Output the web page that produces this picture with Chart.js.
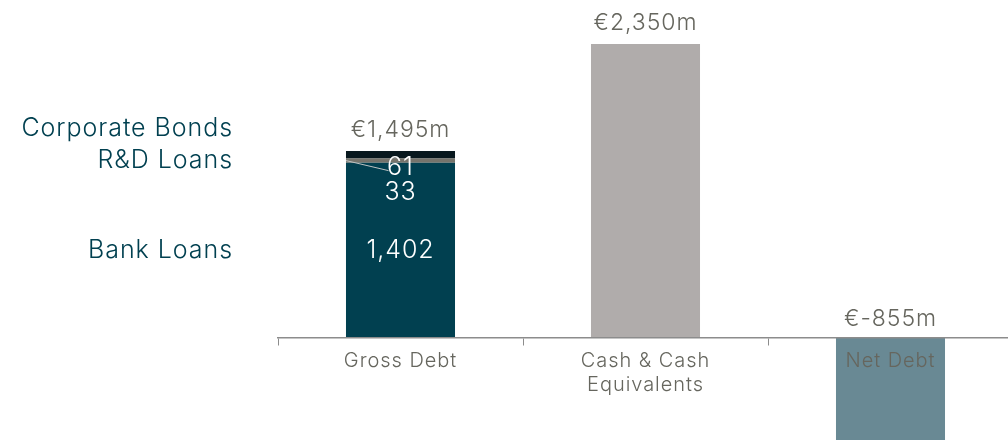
<!DOCTYPE html>
<html>
<head>
<meta charset="utf-8">
<script src="https://cdn.jsdelivr.net/npm/chart.js@4.4.1/dist/chart.umd.min.js"></script>
<style>
  html, body { margin: 0; padding: 0; background: #fff; overflow: hidden; }
  #wrap { width: 1013px; height: 440px; }
</style>
</head>
<body>
<div id="wrap"><canvas id="debtChart"></canvas></div>
<script>
// data
const categories = ['Gross Debt', ['Cash & Cash', 'Equivalents'], 'Net Debt'];
const bankLoans = [1402, null, null];
const rdLoans = [33, null, null];
const corporateBonds = [61, null, null];
const cashValues = [null, 2350, null];
const netDebtValues = [null, null, -855];
const totalLabels = ['€1,495m', '€2,350m', '€-855m'];
const segmentNames = ['Bank Loans', 'R&D Loans', 'Corporate Bonds'];
const segmentLabels = ['1,402', '33', '61'];

const FONT = 'Inter, "Open Sans", sans-serif';
const TEAL = 'rgb(1, 64, 80)';
const GREY_TEXT = 'rgb(102, 102, 94)';

// the reference font is a bit wider than Inter, so space the letters out
const spacingPlugin = {
    id: 'spacing',
    beforeDraw(chart) {
        chart.ctx.letterSpacing = '0.95px';
    }
};

// draws value labels, left-hand segment names and in-bar numbers
const labelsPlugin = {
    id: 'debtLabels',
    afterDatasetsDraw(chart) {
        const ctx = chart.ctx;
        const bank = chart.getDatasetMeta(0).data[0];
        const rd = chart.getDatasetMeta(1).data[0];
        const bonds = chart.getDatasetMeta(2).data[0];
        const cash = chart.getDatasetMeta(3).data[1];
        const net = chart.getDatasetMeta(4).data[2];
        const zeroY = chart.scales.y.getPixelForValue(0);

        ctx.save();
        ctx.textAlign = 'center';
        ctx.textBaseline = 'middle';

        // totals above the bars
        ctx.font = '300 23px ' + FONT;
        ctx.fillStyle = GREY_TEXT;
        ctx.fillText(totalLabels[0], bonds.x, bonds.y - 21);
        ctx.fillText(totalLabels[1], cash.x, cash.y - 21);
        ctx.fillText(totalLabels[2], net.x, zeroY - 19);

        // segment names on the left
        ctx.font = '300 25px ' + FONT;
        ctx.fillStyle = TEAL;
        ctx.textAlign = 'right';
        const bankMid = (bank.y + bank.base) / 2;
        const rdMid = (rd.y + rd.base) / 2;
        ctx.fillText(segmentNames[0], 233, bankMid);
        ctx.fillText(segmentNames[1], 233, rdMid);
        ctx.fillText(segmentNames[2], 233, rdMid - 32);

        // leader line to the "61" label
        ctx.strokeStyle = 'rgb(190, 195, 195)';
        ctx.lineWidth = 1;
        ctx.beginPath();
        ctx.moveTo(bank.x - bank.width / 2, rdMid);
        ctx.lineTo(bank.x - 12, bank.y + 8);
        ctx.stroke();

        // numbers inside the bar
        ctx.textAlign = 'center';
        ctx.fillStyle = '#ffffff';
        ctx.fillText(segmentLabels[0], bank.x, bankMid);
        ctx.fillText(segmentLabels[2], bank.x, bank.y + 5);
        ctx.fillText(segmentLabels[1], bank.x, bank.y + 30);
        ctx.restore();
    }
};

const chart = new Chart(document.querySelector('#debtChart'), {
    type: 'bar',
    data: {
        labels: categories,
        datasets: [
            { label: 'Bank Loans', data: bankLoans, backgroundColor: TEAL },
            { label: 'R&D Loans', data: rdLoans, backgroundColor: 'rgb(118, 116, 108)' },
            { label: 'Corporate Bonds', data: corporateBonds, backgroundColor: 'rgb(8, 24, 30)' },
            { label: 'Cash', data: cashValues, backgroundColor: 'rgb(176, 172, 171)' },
            { label: 'Net Debt', data: netDebtValues, backgroundColor: 'rgb(105, 137, 148)' }
        ]
    },
    options: {
        responsive: true,
        maintainAspectRatio: false,
        animation: false,
        layout: { padding: { left: 278, right: 0, top: 0, bottom: 0 } },
        datasets: {
            bar: { barPercentage: 0.445, categoryPercentage: 1, borderWidth: 0, skipNull: true }
        },
        plugins: {
            legend: { display: false },
            tooltip: { enabled: false }
        },
        scales: {
            x: {
                stacked: true,
                position: { y: 0 },
                offset: true,
                grid: {
                    offset: true,
                    drawOnChartArea: false,
                    drawTicks: true,
                    tickLength: 7,
                    color: 'rgb(140, 140, 140)',
                    lineWidth: 1,
                    z: 1
                },
                border: { display: true, color: 'rgb(140, 140, 140)', width: 1.5, z: 1 },
                ticks: {
                    color: GREY_TEXT,
                    font: { family: FONT, size: 20, weight: 300 },
                    padding: 4,
                    maxRotation: 0,
                    z: 1
                }
            },
            y: {
                stacked: true,
                display: false,
                min: -815,
                max: 2702
            }
        }
    },
    plugins: [spacingPlugin, labelsPlugin]
});
</script>
</body>
</html>
